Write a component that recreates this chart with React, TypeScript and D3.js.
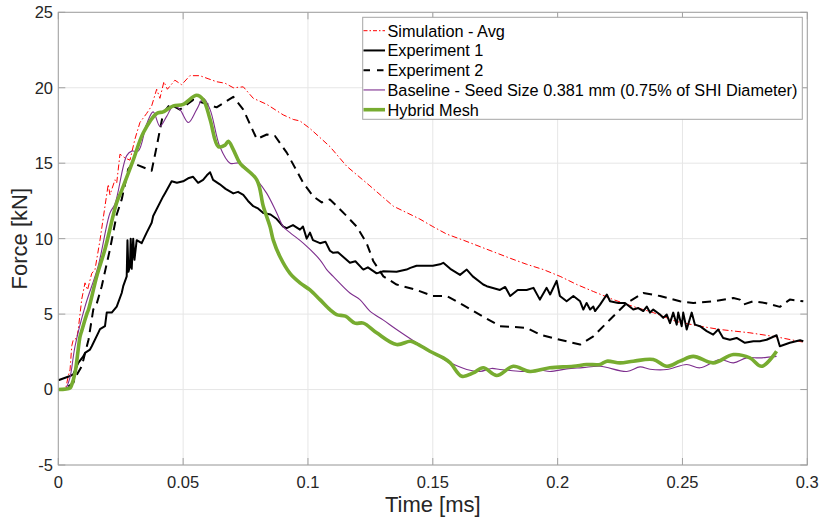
import React from "react";
import * as d3 from "d3";

type P = [number, number];

const xTicks = [0, 0.05, 0.1, 0.15, 0.2, 0.25, 0.3];
const xTickLabels = ["0", "0.05", "0.1", "0.15", "0.2", "0.25", "0.3"];
const yTicks = [-5, 0, 5, 10, 15, 20, 25];
const yTickLabels = ["-5", "0", "5", "10", "15", "20", "25"];

const seriesNames = [
  "Simulation - Avg",
  "Experiment 1",
  "Experiment 2",
  "Baseline - Seed Size 0.381 mm (0.75% of SHI Diameter)",
  "Hybrid Mesh",
];

const simAvg: P[] = [
  [0.0, 0.0], [0.003, 0.1], [0.004, 0.9], [0.0047, 1.3], [0.0054, 2.9], [0.006, 3.3], [0.0074, 3.4],
  [0.008, 4.0], [0.0094, 6.0], [0.0107, 7.07], [0.0117, 6.6], [0.0134, 7.7], [0.0147, 7.95],
  [0.0167, 9.9], [0.0187, 12.15], [0.02, 13.6], [0.0207, 12.9], [0.0227, 13.9], [0.0234, 13.7],
  [0.0247, 15.6], [0.0267, 15.35], [0.0287, 15.2], [0.0307, 16.6], [0.0327, 17.7], [0.0354, 18.3],
  [0.0374, 18.8], [0.0394, 19.9], [0.0407, 19.3], [0.0423, 20.4], [0.0437, 19.9], [0.0467, 20.5],
  [0.0494, 20.2], [0.0527, 20.8], [0.0567, 20.8], [0.06, 20.6], [0.0634, 20.4], [0.0668, 20.3],
  [0.0701, 20.0], [0.0741, 20.06], [0.0781, 19.3], [0.0835, 18.9], [0.0901, 18.2], [0.0941, 17.9],
  [0.0968, 17.8], [0.1008, 17.3], [0.1088, 16.1], [0.1155, 14.8], [0.1248, 13.5], [0.1342, 12.15],
  [0.1448, 11.3], [0.15, 10.8], [0.1556, 10.3], [0.1622, 9.9], [0.1716, 9.3], [0.181, 8.7],
  [0.1876, 8.3], [0.1943, 7.95], [0.201, 7.5], [0.2077, 6.96], [0.2143, 6.5], [0.2223, 5.96],
  [0.2303, 5.5], [0.2383, 5.1], [0.2477, 4.5], [0.257, 4.2], [0.265, 3.98], [0.277, 3.76],
  [0.2877, 3.49], [0.2984, 3.14],
];

const experiment1: P[] = [
  [0, 0.62], [0.0047, 0.9], [0.006, 1.0], [0.008, 1.77], [0.01, 2.2], [0.0107, 2.43], [0.0127, 2.65],
  [0.0134, 2.87], [0.016, 3.76], [0.0167, 4.0], [0.0187, 4.2], [0.0194, 5.1], [0.0214, 5.1],
  [0.0234, 5.5], [0.0254, 6.4], [0.026, 6.85], [0.0274, 7.5], [0.0277, 9.9], [0.0281, 7.8],
  [0.0287, 8.2], [0.029, 10.0], [0.0294, 8.0], [0.03, 10.0], [0.0305, 8.6], [0.0314, 9.9],
  [0.0334, 9.7], [0.0354, 10.4], [0.0374, 11.05], [0.038, 11.5], [0.042, 12.8], [0.0427, 13.0],
  [0.0454, 13.8], [0.0475, 13.7], [0.05, 13.8], [0.052, 14.0], [0.054, 14.1], [0.056, 13.7],
  [0.058, 13.9], [0.0595, 14.2], [0.0608, 14.4], [0.062, 13.9], [0.0647, 13.6], [0.067, 13.3],
  [0.0701, 13.0], [0.072, 13.1], [0.0741, 12.9], [0.076, 12.5], [0.0781, 12.15], [0.08, 12.0],
  [0.0821, 11.7], [0.085, 11.6], [0.0875, 11.3], [0.0901, 10.8], [0.0915, 10.7], [0.094, 10.9],
  [0.0968, 10.6], [0.098, 10.8], [0.0995, 10.0], [0.1008, 10.4], [0.102, 9.9], [0.1048, 9.7],
  [0.107, 9.8], [0.1088, 9.2], [0.1101, 9.06], [0.112, 9.1], [0.1168, 8.4], [0.119, 8.5],
  [0.1215, 8.06], [0.1222, 7.95], [0.124, 8.1], [0.1275, 7.7], [0.1302, 7.84], [0.1355, 7.8],
  [0.1395, 7.95], [0.141, 8.06], [0.1435, 8.2], [0.1488, 8.2], [0.15, 8.2], [0.1529, 8.3],
  [0.1542, 8.4], [0.157, 8.0], [0.1609, 7.6], [0.1636, 7.95], [0.166, 7.5], [0.1702, 6.96],
  [0.1716, 6.85], [0.1769, 6.6], [0.179, 6.8], [0.181, 6.2], [0.184, 6.6], [0.1876, 6.6],
  [0.1903, 6.74], [0.1929, 5.96], [0.1956, 6.74], [0.197, 6.3], [0.1996, 7.2], [0.2009, 6.2],
  [0.2036, 5.85], [0.2063, 6.2], [0.209, 5.85], [0.2103, 5.3], [0.2116, 5.74], [0.213, 5.3],
  [0.2143, 5.5], [0.215, 5.2], [0.217, 5.63], [0.2197, 6.3], [0.221, 5.85], [0.2243, 5.74],
  [0.227, 5.74], [0.2303, 5.3], [0.2323, 5.4], [0.2343, 5.2], [0.2357, 5.5], [0.237, 5.1],
  [0.2383, 5.3], [0.241, 4.97], [0.2423, 4.75], [0.2437, 4.97], [0.245, 4.4], [0.2463, 5.1],
  [0.2477, 4.3], [0.2483, 5.1], [0.2497, 4.2], [0.2503, 5.1], [0.2517, 3.98], [0.2537, 5.1],
  [0.255, 4.3], [0.257, 4.2], [0.2597, 3.87], [0.2623, 3.64], [0.2643, 3.98], [0.2663, 3.42],
  [0.269, 3.3], [0.2717, 3.42], [0.275, 3.1], [0.2784, 3.2], [0.281, 3.2], [0.2837, 3.3],
  [0.2877, 3.6], [0.289, 2.87], [0.293, 3.1], [0.2971, 3.27], [0.2984, 3.2],
];

const experiment2: P[] = [
  [0.004, 0.2], [0.006, 0.44], [0.0067, 0.77], [0.0094, 1.54], [0.0121, 3.3], [0.014, 5.3],
  [0.0154, 5.7], [0.0174, 6.85], [0.0207, 9.3], [0.0234, 11.6], [0.0254, 12.6], [0.028, 14.6],
  [0.03, 15.0], [0.0374, 14.5], [0.0394, 16.1], [0.042, 18.3], [0.0447, 18.9], [0.0487, 18.55],
  [0.054, 19.2], [0.058, 19.0], [0.0634, 18.7], [0.0701, 19.4], [0.0741, 18.55], [0.0795, 16.6],
  [0.0835, 16.9], [0.0868, 16.8], [0.0915, 15.7], [0.0981, 13.7], [0.1021, 12.8], [0.1055, 12.4],
  [0.1088, 12.6], [0.1155, 11.5], [0.1195, 10.8], [0.1235, 9.7], [0.1262, 8.5], [0.1302, 7.5],
  [0.1355, 6.96], [0.1435, 6.6], [0.15, 6.2], [0.1556, 6.2], [0.1622, 5.6], [0.1716, 4.7],
  [0.1769, 4.2], [0.1876, 4.09], [0.1929, 3.64], [0.2009, 3.3], [0.209, 2.98], [0.2143, 3.53],
  [0.221, 4.64], [0.2277, 5.74], [0.2343, 6.4], [0.241, 6.2], [0.249, 5.85], [0.2543, 5.74],
  [0.2623, 5.85], [0.2704, 6.07], [0.273, 5.96], [0.2744, 5.63], [0.2784, 5.85], [0.283, 5.74],
  [0.289, 5.48], [0.293, 5.96], [0.2984, 5.85],
];

const baseline: P[] = [
  [0.003, 0.0], [0.0047, 0.8], [0.0067, 2.87], [0.0107, 5.5], [0.016, 8.2], [0.0207, 11.7],
  [0.0227, 12.3], [0.0274, 15.5], [0.0294, 15.8], [0.032, 15.8], [0.0354, 17.6], [0.038, 18.4],
  [0.0407, 17.45], [0.0434, 18.1], [0.0461, 18.8], [0.0487, 18.55], [0.0521, 17.7], [0.0554, 18.55],
  [0.0581, 19.3], [0.0608, 18.55], [0.0647, 16.1], [0.0688, 15.0], [0.0728, 15.0], [0.0795, 13.9],
  [0.0835, 13.0], [0.0875, 11.7], [0.0901, 10.8], [0.0928, 10.4], [0.0981, 9.7], [0.1048, 8.6],
  [0.1075, 7.95], [0.1101, 7.5], [0.1168, 6.4], [0.1208, 5.96], [0.1248, 5.2], [0.1302, 4.6],
  [0.1355, 3.98], [0.1435, 3.1], [0.1502, 2.43], [0.157, 1.77], [0.1636, 1.33], [0.1689, 1.2],
  [0.1735, 1.4], [0.1769, 1.33], [0.182, 1.25], [0.1876, 1.2], [0.193, 1.3], [0.1969, 1.2],
  [0.2036, 1.37], [0.21, 1.45], [0.217, 1.54], [0.2277, 1.2], [0.233, 1.5], [0.237, 1.35],
  [0.2437, 1.33], [0.2517, 1.66], [0.257, 1.44], [0.265, 1.99], [0.2704, 1.77], [0.2757, 2.1],
  [0.281, 2.1], [0.2877, 2.2],
];

const hybridMesh: P[] = [
  [0, 0], [0.0047, 0.1], [0.0054, 0.33], [0.0067, 1.1], [0.0087, 3.5], [0.0094, 3.9], [0.0114, 5.0],
  [0.0121, 5.3], [0.0154, 7.5], [0.0187, 9.3], [0.0234, 12.4], [0.0254, 13.2], [0.03, 15.2],
  [0.034, 17.0], [0.0394, 18.3], [0.042, 18.4], [0.0461, 18.8], [0.05, 18.9], [0.0554, 19.5],
  [0.0581, 19.2], [0.0608, 17.9], [0.0641, 16.1], [0.0668, 16.2], [0.0681, 16.45], [0.0701, 15.9],
  [0.0728, 15.0], [0.0795, 13.9], [0.0821, 12.15], [0.0848, 10.8], [0.0861, 9.9], [0.0888, 8.8],
  [0.0928, 7.7], [0.0968, 7.07], [0.1008, 6.6], [0.1048, 5.96], [0.1088, 5.3], [0.1115, 4.97],
  [0.115, 4.86], [0.1188, 4.4], [0.1222, 4.4], [0.1275, 3.76], [0.1355, 2.98], [0.141, 3.2],
  [0.1435, 3.05], [0.1488, 2.54], [0.1542, 2.1], [0.157, 1.77], [0.1616, 0.88], [0.1662, 1.1],
  [0.1702, 1.44], [0.1756, 0.93], [0.1822, 1.54], [0.1889, 1.2], [0.1969, 1.44], [0.2063, 1.54],
  [0.2116, 1.66], [0.217, 1.66], [0.2197, 1.88], [0.225, 1.77], [0.2303, 1.88], [0.2383, 1.99],
  [0.2437, 1.54], [0.249, 1.88], [0.2543, 2.2], [0.2623, 1.77], [0.2704, 2.32], [0.277, 2.1],
  [0.2817, 1.54], [0.2877, 2.54],
];

const W = 823;
const H = 522;
const FONT = "'Liberation Sans', Arial, Helvetica, sans-serif";

export default function App() {
  const x = d3.scaleLinear().domain([0, 0.3]).range([58.3, 807.3]);
  const y = d3.scaleLinear().domain([-5, 25]).range([465, 12.3]);
  const [x0, x1] = x.range();
  const [y0, y1] = y.range();

  const lin = d3.line<P>().x((d) => x(d[0])).y((d) => y(d[1]));
  const smooth = d3
    .line<P>()
    .x((d) => x(d[0]))
    .y((d) => y(d[1]))
    .curve(d3.curveCatmullRom.alpha(0.5));

  const styles = [
    { data: simAvg, gen: lin, stroke: "#FF0000", width: 1, dash: "6,2.5,1.5,2.5" },
    { data: experiment1, gen: lin, stroke: "#000000", width: 2, dash: undefined },
    { data: experiment2, gen: lin, stroke: "#000000", width: 2, dash: "9,6" },
    { data: baseline, gen: smooth, stroke: "#7E2F8E", width: 1.1, dash: undefined },
    { data: hybridMesh, gen: smooth, stroke: "#77AC30", width: 3.6, dash: undefined },
  ];

  const legendDash = ["4,2,1.5,2", undefined, "6.5,7", undefined, undefined];

  const tickLen = 7;
  const lx = 362.7;
  const ly = 17.3;
  const lw = 439.6;
  const lh = 102;

  return (
    <svg
      width={W}
      height={H}
      style={{ position: "absolute", left: 0, top: 0, background: "#fff" }}
      fontFamily={FONT}
    >
      <rect x={0} y={0} width={W} height={H} fill="#fff" />
      <defs>
        <clipPath id="plotclip">
          <rect x={x0} y={y1} width={x1 - x0} height={y0 - y1} />
        </clipPath>
      </defs>
      {xTicks.map((t) => (
        <line key={"gx" + t} x1={x(t)} x2={x(t)} y1={y0} y2={y1} stroke="#e6e6e6" strokeWidth={1} />
      ))}
      {yTicks.map((t) => (
        <line key={"gy" + t} x1={x0} x2={x1} y1={y(t)} y2={y(t)} stroke="#e6e6e6" strokeWidth={1} />
      ))}
      {xTicks.map((t) => (
        <g key={"tx" + t}>
          <line x1={x(t)} x2={x(t)} y1={y0} y2={y0 - tickLen} stroke="#a0a0a0" />
          <line x1={x(t)} x2={x(t)} y1={y1} y2={y1 + tickLen} stroke="#a0a0a0" />
        </g>
      ))}
      {yTicks.map((t) => (
        <g key={"ty" + t}>
          <line x1={x0} x2={x0 + tickLen} y1={y(t)} y2={y(t)} stroke="#a0a0a0" />
          <line x1={x1} x2={x1 - tickLen} y1={y(t)} y2={y(t)} stroke="#a0a0a0" />
        </g>
      ))}
      <g clipPath="url(#plotclip)">
        {styles.map((s, i) => (
          <path
            key={i}
            d={s.gen(s.data) || ""}
            fill="none"
            stroke={s.stroke}
            strokeWidth={s.width}
            strokeDasharray={s.dash}
            strokeLinejoin="round"
          />
        ))}
      </g>
      <rect x={x0} y={y1} width={x1 - x0} height={y0 - y1} fill="none" stroke="#a0a0a0" strokeWidth={1} />
      {xTicks.map((t, i) => (
        <text key={"lx" + t} x={x(t)} y={487.5} textAnchor="middle" fontSize={16.5} fill="#262626">
          {xTickLabels[i]}
        </text>
      ))}
      {yTicks.map((t, i) => (
        <text key={"ly" + t} x={53} y={y(t)} dy="0.36em" textAnchor="end" fontSize={16.5} fill="#262626">
          {yTickLabels[i]}
        </text>
      ))}
      <text x={(x0 + x1) / 2} y={512} textAnchor="middle" fontSize={22} fill="#262626">
        Time [ms]
      </text>
      <text
        transform={`translate(27, ${(y0 + y1) / 2}) rotate(-90)`}
        textAnchor="middle"
        fontSize={22}
        fill="#262626"
      >
        Force [kN]
      </text>
      <rect x={lx} y={ly} width={lw} height={lh} fill="#fff" stroke="#a6a6a6" strokeWidth={1} />
      {seriesNames.map((name, i) => {
        const cy = 30.7 + i * 19.75;
        const s = styles[i];
        return (
          <g key={"lg" + i}>
            <line
              x1={363.5}
              x2={385}
              y1={cy}
              y2={cy}
              stroke={s.stroke}
              strokeWidth={s.width}
              strokeDasharray={legendDash[i]}
            />
            <text x={387.5} y={cy} dy="0.36em" fontSize={16.3} fill="#000">
              {name}
            </text>
          </g>
        );
      })}
    </svg>
  );
}
